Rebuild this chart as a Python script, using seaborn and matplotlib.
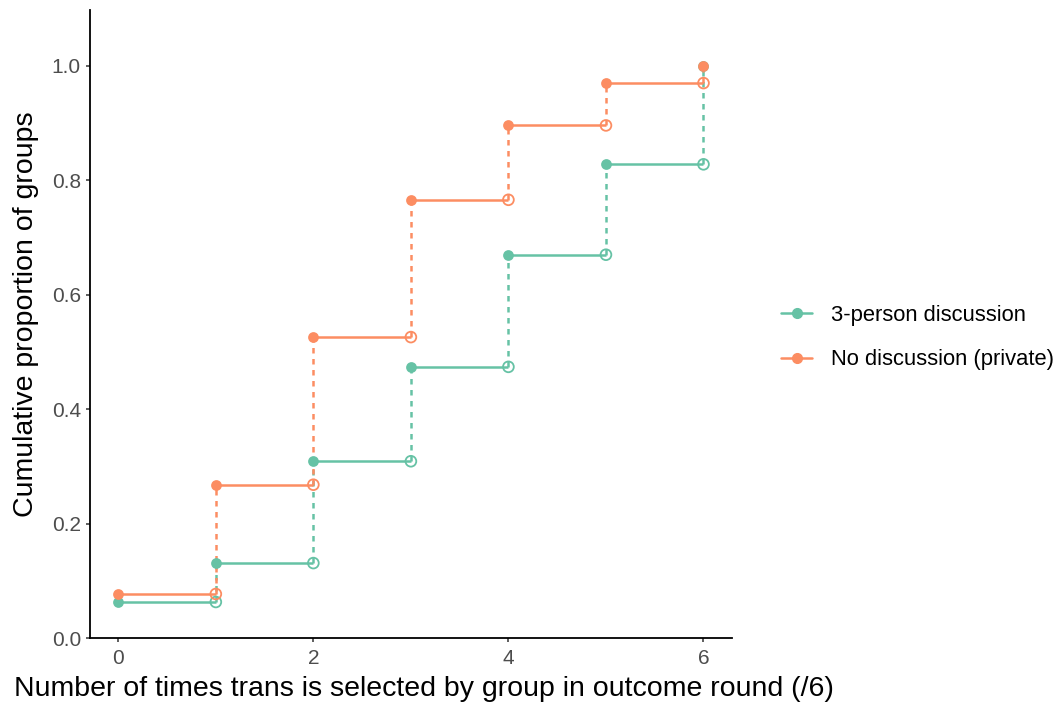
import numpy as np
import pandas as pd
import matplotlib.pyplot as plt
import seaborn as sns
from matplotlib.lines import Line2D

# Data
times = [0, 1, 2, 3, 4, 5, 6]
discussion = [0.063, 0.131, 0.309, 0.474, 0.670, 0.828, 1.000]
private = [0.077, 0.268, 0.526, 0.766, 0.896, 0.970, 1.000]
groups = ["3-person discussion", "No discussion (private)"]
colors = ["#66C2A5", "#FC8D62"]

df = pd.concat([
    pd.DataFrame({"times": times, "prop": discussion, "group": groups[0]}),
    pd.DataFrame({"times": times, "prop": private, "group": groups[1]}),
], ignore_index=True)

sns.set_style("ticks")
plt.rcParams['font.family'] = ['Liberation Sans', 'DejaVu Sans']
plt.rcParams['text.color'] = 'black'
plt.rcParams['axes.labelcolor'] = 'black'

fig = plt.figure(figsize=(10.59, 7.09), dpi=100)
ax = fig.add_axes([0.085, 0.1001, 0.606, 0.886])

lw = 1.8
# step segments: solid horizontal, dashed vertical
for g, c in zip(groups, colors):
    sub = df[df["group"] == g].sort_values("times")
    x = sub["times"].to_numpy()
    y = sub["prop"].to_numpy()
    ax.hlines(y[:-1], x[:-1], x[1:], color=c, lw=lw, zorder=2)
    ax.vlines(x[1:], y[:-1], y[1:], color=c, lw=lw, linestyles=(0, (2.2, 2.2)), zorder=2)

# filled points at jumps, open circles at segment ends
for g, c in zip(groups, colors):
    sub = df[df["group"] == g].sort_values("times")
    sns.scatterplot(x=sub["times"], y=sub["prop"], color=c, s=60,
                    edgecolor=c, linewidth=0, ax=ax, zorder=3)
    ends = pd.DataFrame({"x": sub["times"].to_numpy()[1:], "y": sub["prop"].to_numpy()[:-1]})
    sns.scatterplot(data=ends, x="x", y="y", facecolor="none", edgecolor=c,
                    s=60, linewidth=1.3, ax=ax, zorder=3)

ax.set_xlim(-0.29, 6.29)
ax.set_ylim(0, 1.098)
ax.set_xticks([0, 2, 4, 6])
ax.set_yticks([0.0, 0.2, 0.4, 0.6, 0.8, 1.0])
ax.set_yticklabels(["0.0", "0.2", "0.4", "0.6", "0.8", "1.0"])
ax.tick_params(labelsize=15, labelcolor="#4D4D4D", color="#333333", length=3, width=1.1)
ax.tick_params(axis="x", pad=5)
ax.tick_params(axis="y", pad=3.5)
ax.set_xlabel("Number of times trans is selected by group in outcome round (/6)", fontsize=20.5)
ax.set_ylabel("Cumulative proportion of groups", fontsize=20.5)
ax.xaxis.set_label_coords(0.52, -0.061)
ax.yaxis.set_label_coords(-0.079, 0.516)
for s in ["top", "right"]:
    ax.spines[s].set_visible(False)
for s in ["left", "bottom"]:
    ax.spines[s].set_linewidth(1.3)
    ax.spines[s].set_color("black")

handles = [Line2D([0], [0], color=c, lw=lw, marker="o", markersize=7) for c in colors]
fig.legend(handles, groups, loc="center left", bbox_to_anchor=(0.7185, 0.524),
           frameon=False, fontsize=15.8, handlelength=1.45, handletextpad=0.85,
           labelspacing=1.08)

plt.savefig("out.png", dpi=100)
